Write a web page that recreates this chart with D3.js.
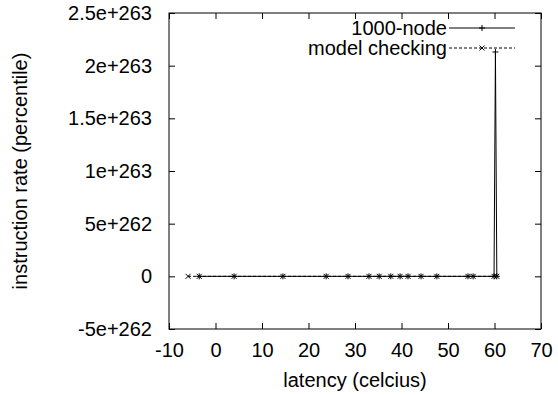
<!DOCTYPE html>
<html>
<head>
<meta charset="utf-8">
<script src="https://cdn.jsdelivr.net/npm/d3@7"></script>
<style>
  body { margin: 0; background: #fff; }
  svg text { font-family: "Liberation Sans", Arial, Helvetica, sans-serif; font-size: 20px; fill: #000; }
</style>
</head>
<body>
<svg id="chart" width="558" height="395"></svg>
<script>
// values
const xTicks = [-10, 0, 10, 20, 30, 40, 50, 60, 70];
const yTicks = [-5e262, 0, 5e262, 1e263, 1.5e263, 2e263, 2.5e263];
const yTickLabels = ["-5e+262", "0", "5e+262", "1e+263", "1.5e+263", "2e+263", "2.5e+263"];

const nodeX = [-3.5, 4.0, 14.5, 23.8, 28.5, 33.0, 35.2, 37.7, 39.7, 41.4, 44.2, 47.6, 54.3, 55.4, 59.9, 60.2, 60.5];
const nodeY = [0, 0, 0, 0, 0, 0, 0, 0, 0, 0, 0, 0, 0, 0, 0, 2.13e263, 0];
const modelX = [-5.9, -3.5, 4.0, 14.5, 23.8, 28.5, 33.0, 35.2, 37.7, 39.7, 41.4, 44.2, 47.6, 54.3, 55.4, 59.9, 60.5];
const modelY = [0, 0, 0, 0, 0, 0, 0, 0, 0, 0, 0, 0, 0, 0, 0, 0, 0];

const seriesNames = ["1000-node", "model checking"];

const margin = {left: 169, right: 17, top: 13, bottom: 66};
const width = 558, height = 395;

const svg = d3.select("#chart");

const x = d3.scaleLinear().domain([-10, 70]).range([margin.left, width - margin.right]);
const y = d3.scaleLinear().domain([-5e262, 2.5e263]).range([height - margin.bottom, margin.top]);

const tickLen = 6;

// axes (gnuplot style: ticks inside, mirrored)
svg.append("g")
    .attr("transform", `translate(0,${y.range()[0]})`)
    .call(d3.axisBottom(x).tickValues(xTicks).tickSizeInner(-tickLen).tickSizeOuter(0).tickPadding(14)
        .tickFormat(d => String(d)))
    .call(g => g.select(".domain").remove());
svg.append("g")
    .attr("transform", `translate(0,${y.range()[1]})`)
    .call(d3.axisTop(x).tickValues(xTicks).tickSizeInner(-tickLen).tickSizeOuter(0).tickFormat(""))
    .call(g => g.select(".domain").remove());
svg.append("g")
    .attr("transform", `translate(${x.range()[0]},0)`)
    .call(d3.axisLeft(y).tickValues(yTicks).tickSizeInner(-tickLen).tickSizeOuter(0).tickPadding(17)
        .tickFormat((d, i) => yTickLabels[i]))
    .call(g => g.select(".domain").remove());
svg.append("g")
    .attr("transform", `translate(${x.range()[1]},0)`)
    .call(d3.axisRight(y).tickValues(yTicks).tickSizeInner(-tickLen).tickSizeOuter(0).tickFormat(""))
    .call(g => g.select(".domain").remove());

svg.selectAll(".tick text").style("font-size", "20px").attr("font-family", null);
svg.selectAll(".tick line").attr("stroke", "#000");

// plot border
svg.append("rect")
    .attr("x", x.range()[0]).attr("y", y.range()[1])
    .attr("width", x.range()[1] - x.range()[0])
    .attr("height", y.range()[0] - y.range()[1])
    .attr("fill", "none").attr("stroke", "#000").attr("stroke-width", 1);

// axis titles
svg.append("text")
    .attr("x", (x.range()[0] + x.range()[1]) / 2).attr("y", 387)
    .attr("text-anchor", "middle")
    .text("latency (celcius)");
svg.append("text")
    .attr("transform", `translate(27,${(y.range()[0] + y.range()[1]) / 2}) rotate(-90)`)
    .attr("text-anchor", "middle")
    .text("instruction rate (percentile)");

const line = d3.line().x(d => x(d[0])).y(d => y(d[1]));
const nodeData = nodeX.map((v, i) => [v, nodeY[i]]);
const modelData = modelX.map((v, i) => [v, modelY[i]]);

function plus(g, cx, cy, s) {
    g.append("path").attr("d", `M${cx - s},${cy}H${cx + s}M${cx},${cy - s}V${cy + s}`)
        .attr("stroke", "#000").attr("stroke-width", 1).attr("fill", "none");
}
function cross(g, cx, cy, s) {
    g.append("path").attr("d", `M${cx - s},${cy - s}L${cx + s},${cy + s}M${cx - s},${cy + s}L${cx + s},${cy - s}`)
        .attr("stroke", "#000").attr("stroke-width", 1).attr("fill", "none");
}

// model checking: dashed with x marks
svg.append("path").datum(modelData)
    .attr("d", line).attr("fill", "none").attr("stroke", "#000")
    .attr("stroke-width", 1).attr("stroke-dasharray", "3,2");
const gm = svg.append("g");
modelData.forEach(d => cross(gm, x(d[0]), y(d[1]), 2.5));

// 1000-node: solid with + marks
svg.append("path").datum(nodeData)
    .attr("d", line).attr("fill", "none").attr("stroke", "#000").attr("stroke-width", 1);
const gn = svg.append("g");
nodeData.forEach(d => plus(gn, x(d[0]), y(d[1]), 3));

// legend
const legX = 447, legLine = [449, 515];
const legRows = [28, 48];
seriesNames.forEach((name, i) => {
    const ly = legRows[i];
    svg.append("text").attr("x", legX).attr("y", ly + 7).attr("text-anchor", "end").text(name);
    svg.append("line")
        .attr("x1", legLine[0]).attr("x2", legLine[1]).attr("y1", ly).attr("y2", ly)
        .attr("stroke", "#000").attr("stroke-width", 1)
        .attr("stroke-dasharray", i === 1 ? "3,2" : null);
    const mx = (legLine[0] + legLine[1]) / 2;
    if (i === 0) plus(svg, mx, ly, 3); else cross(svg, mx, ly, 2.5);
});
</script>
</body>
</html>
